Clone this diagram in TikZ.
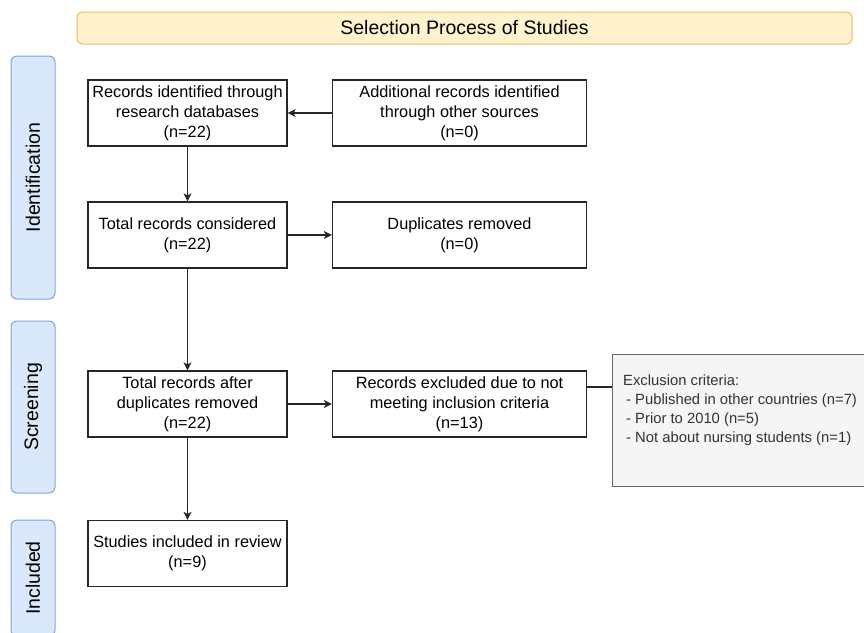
\documentclass[tikz,border=0pt]{standalone}
\usepackage{fontspec}
\setmainfont{Liberation Sans}
\usetikzlibrary{arrows.meta,positioning}
\definecolor{titlefill}{HTML}{FFF2CC}
\definecolor{titledraw}{HTML}{EDBB63}
\definecolor{phasefill}{HTML}{DAE8FC}
\definecolor{phasedraw}{HTML}{7EA6E0}
\definecolor{notefill}{HTML}{F5F5F5}
\definecolor{notedraw}{HTML}{666666}
\definecolor{notetext}{HTML}{333333}
\begin{document}
\begin{tikzpicture}[x=1pt,y=-1pt,
  stepbox/.style={draw=black!85, line width=1.2pt, fill=white, align=center,
    font=\fontsize{16.3}{20}\selectfont, inner sep=0pt, minimum height=66pt},
  phase/.style={draw=phasedraw, fill=phasefill, line width=1pt, rounded corners=6pt,
    minimum width=44pt, inner sep=0pt},
  phasetext/.style={rotate=90, font=\fontsize{19.5}{22}\selectfont, inner sep=0pt},
  conn/.style={line width=1.2pt, black!85, -{Stealth[length=8pt,width=8pt,inset=2pt]}}]
\clip (0,0) rectangle (864,632);
\fill[white] (0,0) rectangle (864,632);

% title
\node[draw=titledraw, fill=titlefill, line width=1pt, rounded corners=5pt,
  minimum width=775pt, minimum height=32pt, inner sep=0pt,
  font=\fontsize{19.5}{22}\selectfont] (title) at (464.5,28) {Selection Process of Studies};

% phase bars
\node[phase, minimum height=243pt] (idbar) at (33,177.5) {};
\node[phasetext] (idtxt) at (idbar.center) {Identification};
\node[phase, minimum height=172pt] (scbar) at (33,407) {};
\node[phasetext] (sctxt) at (scbar.center) {Screening};
\node[phase, minimum height=116pt] (inbar) at (33,578) {};
\node[phasetext] (intxt) at (inbar.center) {Included};

% boxes
\node[stepbox, minimum width=199pt] (A) at (187.5,113) {Records identified through\\research databases\\(n=22)};
\node[stepbox, minimum width=254pt] (B) at (459.5,113) {Additional records identified\\through other sources\\(n=0)};
\node[stepbox, minimum width=199pt] (C) at (187.5,235) {Total records considered\\(n=22)};
\node[stepbox, minimum width=254pt] (D) at (459.5,235) {Duplicates removed\\(n=0)};
\node[stepbox, minimum width=199pt] (E) at (187.5,404) {Total records after\\duplicates removed\\(n=22)};
\node[stepbox, minimum width=254pt] (F) at (459.5,404) {Records excluded due to not\\meeting inclusion criteria\\(n=13)};
\node[stepbox, minimum width=199pt] (G) at (187.5,553.5) {Studies included in review\\(n=9)};

% exclusion note
\node[draw=notedraw, fill=notefill, line width=1pt, minimum width=290pt,
  minimum height=132pt, inner sep=0pt] (X) at (757,420) {};
\node[anchor=north west, align=left, text=notetext, inner sep=0pt,
  font=\fontsize{14.8}{19}\selectfont] (XT) at (623,375)
  {Exclusion criteria:\\\hspace*{3pt}- Published in other countries (n=7)\\\hspace*{3pt}- Prior to 2010 (n=5)\\\hspace*{3pt}- Not about nursing students (n=1)};

% connectors
\draw[conn] (B) -- (A);
\draw[conn] (A) -- (C);
\draw[conn] (C) -- (D);
\draw[conn] (C) -- (E);
\draw[conn] (E) -- (F);
\draw[conn] (E) -- (G);
\draw[line width=1.2pt, black!85] ([yshift=17pt]F.east) -- ([yshift=17pt]F.east -| X.west);
\end{tikzpicture}
\end{document}
